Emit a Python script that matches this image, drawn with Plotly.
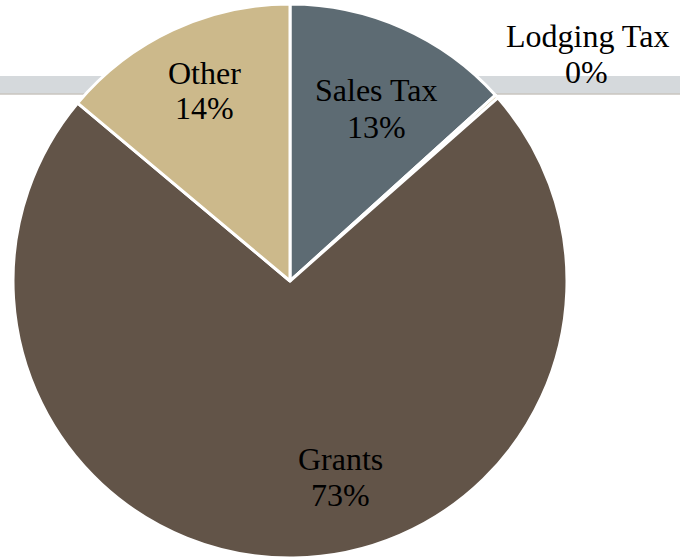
import plotly.graph_objects as go

# Revenue sources (share of total, percent)
categories = ["Sales Tax", "Lodging Tax", "Grants", "Other"]
shares = [13.3, 0.2, 72.6, 13.9]
slice_colors = ["#5d6b73", "#c9b583", "#625448", "#ccb98b"]

W, H = 680, 558
FONT = "Liberation Serif, Times New Roman, serif"

fig = go.Figure(
    go.Pie(
        labels=categories,
        values=shares,
        sort=False,
        direction="clockwise",
        rotation=0,
        marker=dict(colors=slice_colors, line=dict(color="white", width=3)),
        textinfo="none",
        hoverinfo="label+percent",
        showlegend=False,
        domain=dict(x=[13 / W, 567 / W], y=[0, 1 - 4 / H]),
    )
)

# Decorative band running behind the pie
band_top, band_bottom = 76, 94
fig.add_shape(type="rect", xref="paper", yref="paper", layer="below",
              x0=0, x1=1, y0=1 - band_bottom / H, y1=1 - band_top / H,
              fillcolor="#d5d9dc", line=dict(width=0))
fig.add_shape(type="line", xref="paper", yref="paper", layer="below",
              x0=0, x1=1, y0=1 - band_bottom / H, y1=1 - band_bottom / H,
              line=dict(color="#c8c5bf", width=1.5))

# Label placement (pixel centres of the name line and the percent line)
label_pos = {
    "Sales Tax": ((376, 90), (376, 127)),
    "Lodging Tax": ((587, 36), (586, 72)),
    "Grants": ((340, 459), (340, 495)),
    "Other": ((204, 73), (204, 108)),
}
total = sum(shares)
for name, val in zip(categories, shares):
    (nx, ny), (px_, py_) = label_pos[name]
    for text, (x, y) in ((name, (nx, ny)), (f"{val / total:.0%}", (px_, py_))):
        fig.add_annotation(
            x=x / W, y=1 - y / H, xref="paper", yref="paper",
            text=text, showarrow=False, xanchor="center", yanchor="middle",
            font=dict(family=FONT, size=32, color="#000000"),
        )

fig.update_layout(
    width=W, height=H,
    margin=dict(l=0, r=0, t=0, b=0),
    paper_bgcolor="white",
    plot_bgcolor="white",
)

fig.write_html("out.html")
